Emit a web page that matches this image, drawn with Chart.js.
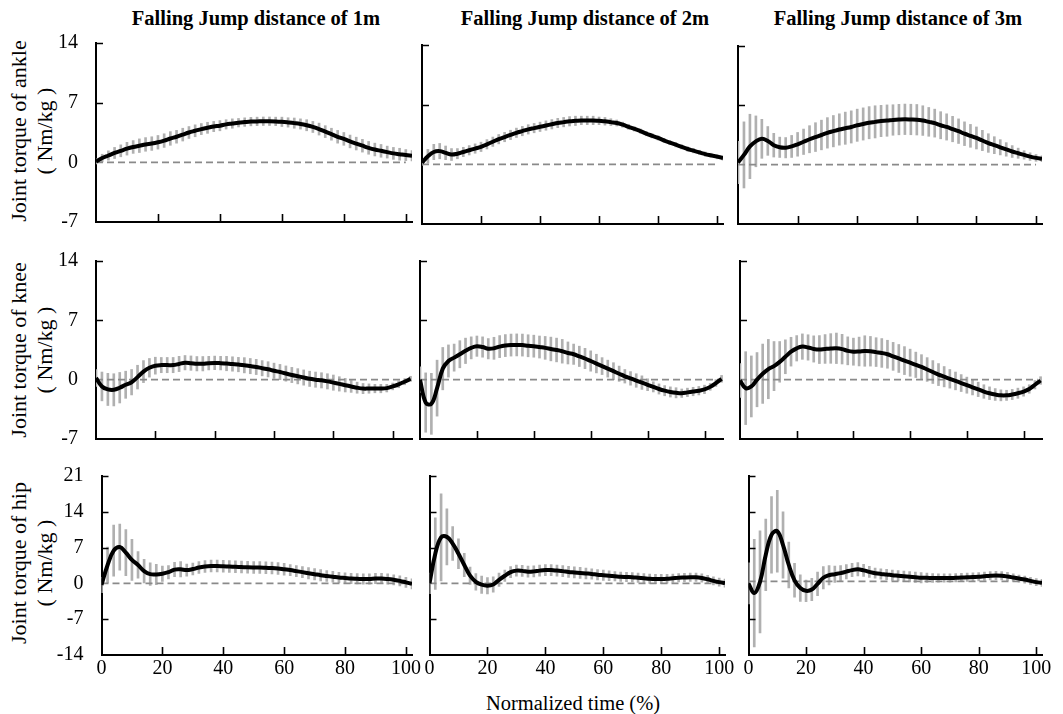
<!DOCTYPE html>
<html lang="en">
<head>
<meta charset="UTF-8" />
<title>Joint torque during falling jumps</title>
<script src="https://cdn.jsdelivr.net/npm/chart.js@4.4.0/dist/chart.umd.min.js"></script>
<style>
  body { margin: 0; background: #fff; }
  #figure {
    position: relative;
    width: 1063px;
    height: 714px;
    overflow: hidden;
    font-family: "Liberation Serif", "DejaVu Serif", serif;
    color: #000;
  }
  #figure canvas { position: absolute; left: 0; top: 0; }
  .title {
    position: absolute;
    top: 7px;
    transform: translateX(-50%);
    font-weight: bold;
    font-size: 20.5px;
    white-space: nowrap;
  }
  .ylab {
    position: absolute;
    transform: translate(-50%, -50%) rotate(-90deg);
    font-size: 22px;
    line-height: 26px;
    text-align: center;
    white-space: nowrap;
  }
  .xlab {
    position: absolute;
    transform: translate(-50%, -50%);
    font-size: 20.5px;
    white-space: nowrap;
  }
</style>
</head>
<body>
<div id="figure">
  <div class="title" style="left:256px">Falling Jump distance of 1m</div>
  <div class="title" style="left:585px">Falling Jump distance of 2m</div>
  <div class="title" style="left:898px">Falling Jump distance of 3m</div>

  <div class="ylab" style="left:32px;top:131px">Joint torque of ankle<br>( Nm/kg )</div>
  <div class="ylab" style="left:32px;top:350px">Joint torque of knee<br>( Nm/kg )</div>
  <div class="ylab" style="left:32px;top:563px">Joint torque of hip<br>( Nm/kg )</div>

  <div class="xlab" style="left:573px;top:703px">Normalized time (%)</div>
</div>

<script>
// normalized time samples (%); the knee trials run a little longer
const xAnkleHip = [0, 2, 4, 6, 8, 10, 12, 14, 16, 18, 20, 22, 24,
  26, 28, 30, 32, 34, 36, 38, 40, 42, 44, 46, 48, 50,
  52, 54, 56, 58, 60, 62, 64, 66, 68, 70, 72, 74, 76,
  78, 80, 82, 84, 86, 88, 90, 92, 94, 96, 98, 100, 102];
const xKnee = [0, 2, 4, 6, 8, 10, 12, 14, 16, 18, 20, 22, 24,
  26, 28, 30, 32, 34, 36, 38, 40, 42, 44, 46, 48, 50,
  52, 54, 56, 58, 60, 62, 64, 66, 68, 70, 72, 74, 76,
  78, 80, 82, 84, 86, 88, 90, 92, 94, 96, 98, 100, 102, 104, 106];

// ankle: mean and SD (Nm/kg)
const ankle1m = [0.1, 0.5, 0.8, 1.1, 1.35, 1.6, 1.8, 1.95, 2.1, 2.2, 2.35, 2.55, 2.8,
  3.0, 3.25, 3.5, 3.7, 3.9, 4.05, 4.2, 4.3, 4.45, 4.55, 4.65, 4.72, 4.78,
  4.8, 4.82, 4.82, 4.8, 4.75, 4.68, 4.6, 4.5, 4.35, 4.15, 3.9, 3.6, 3.3,
  3.0, 2.75, 2.45, 2.2, 1.95, 1.7, 1.5, 1.35, 1.2, 1.05, 0.95, 0.85, 0.78];
const ankle1mSd = [0.3, 0.45, 0.55, 0.65, 0.7, 0.75, 0.75, 0.8, 0.8, 0.8, 0.8, 0.8, 0.8,
  0.75, 0.75, 0.7, 0.7, 0.65, 0.65, 0.6, 0.6, 0.55, 0.55, 0.5, 0.5, 0.5,
  0.5, 0.5, 0.5, 0.5, 0.55, 0.55, 0.6, 0.6, 0.65, 0.65, 0.7, 0.7, 0.7,
  0.75, 0.75, 0.75, 0.75, 0.75, 0.75, 0.75, 0.75, 0.7, 0.7, 0.7, 0.65, 0.6];
const ankle2m = [0.2, 0.95, 1.45, 1.55, 1.35, 1.15, 1.25, 1.45, 1.65, 1.85, 2.05, 2.35, 2.65,
  2.95, 3.2, 3.45, 3.7, 3.9, 4.1, 4.25, 4.4, 4.55, 4.7, 4.85, 4.95, 5.05,
  5.1, 5.15, 5.15, 5.15, 5.1, 5.05, 4.95, 4.85, 4.65, 4.4, 4.15, 3.9, 3.6,
  3.35, 3.1, 2.8, 2.55, 2.3, 2.05, 1.8, 1.6, 1.4, 1.2, 1.05, 0.9, 0.75];
const ankle2mSd = [0.3, 0.8, 0.9, 0.9, 0.8, 0.7, 0.6, 0.55, 0.55, 0.55, 0.55, 0.55, 0.55,
  0.55, 0.55, 0.55, 0.55, 0.55, 0.55, 0.55, 0.55, 0.55, 0.55, 0.55, 0.55, 0.55,
  0.55, 0.5, 0.5, 0.5, 0.45, 0.45, 0.4, 0.35, 0.3, 0.3, 0.25, 0.25, 0.25,
  0.25, 0.25, 0.25, 0.25, 0.25, 0.25, 0.25, 0.25, 0.25, 0.25, 0.25, 0.25, 0.25];
const ankle3m = [0.25, 1.15, 2.15, 2.75, 3.05, 2.8, 2.3, 2.05, 2.0, 2.15, 2.4, 2.7, 3.0,
  3.25, 3.5, 3.75, 3.95, 4.15, 4.3, 4.45, 4.65, 4.8, 4.95, 5.05, 5.15, 5.2,
  5.27, 5.32, 5.35, 5.33, 5.3, 5.2, 5.05, 4.9, 4.65, 4.45, 4.2, 3.95, 3.65,
  3.4, 3.15, 2.85, 2.55, 2.3, 2.05, 1.8, 1.55, 1.35, 1.15, 0.95, 0.8, 0.7];
const ankle3mSd = [2.5, 3.9, 3.8, 3.0, 2.3, 1.7, 1.4, 1.2, 1.2, 1.3, 1.4, 1.5, 1.6,
  1.7, 1.75, 1.8, 1.85, 1.85, 1.9, 1.9, 1.9, 1.9, 1.9, 1.9, 1.85, 1.85,
  1.8, 1.8, 1.8, 1.8, 1.8, 1.75, 1.7, 1.65, 1.6, 1.55, 1.5, 1.45, 1.4,
  1.35, 1.3, 1.2, 1.1, 1.0, 0.9, 0.8, 0.7, 0.6, 0.5, 0.45, 0.4, 0.35];

// knee
const knee1m = [0.2, -0.8, -1.15, -1.2, -0.95, -0.6, -0.3, 0.3, 0.95, 1.4, 1.65, 1.72, 1.72,
  1.72, 1.85, 2.0, 1.95, 1.88, 1.88, 1.95, 1.98, 1.95, 1.9, 1.85, 1.78, 1.7,
  1.6, 1.5, 1.35, 1.22, 1.05, 0.9, 0.72, 0.55, 0.4, 0.25, 0.1, 0.0, -0.08,
  -0.2, -0.35, -0.5, -0.65, -0.8, -0.95, -1.05, -1.05, -1.05, -1.05, -1.0, -0.8, -0.55, -0.25, 0.1];
const knee1mSd = [1.0, 1.7, 1.9, 1.9, 1.8, 1.6, 1.5, 1.4, 1.3, 1.1, 1.0, 0.9, 0.9,
  0.9, 0.9, 0.85, 0.85, 0.85, 0.85, 0.8, 0.8, 0.8, 0.85, 0.85, 0.85, 0.9,
  0.9, 0.9, 0.9, 0.9, 0.9, 0.9, 0.9, 0.9, 0.9, 0.9, 0.9, 0.9, 0.9,
  0.9, 0.9, 0.85, 0.8, 0.7, 0.65, 0.6, 0.55, 0.5, 0.5, 0.45, 0.4, 0.4, 0.35, 0.3];
const knee2m = [0.0, -2.7, -2.85, -1.0, 1.3, 2.2, 2.6, 3.0, 3.4, 3.75, 3.95, 3.85, 3.65,
  3.7, 3.9, 4.02, 4.08, 4.1, 4.08, 4.0, 3.95, 3.85, 3.75, 3.62, 3.5, 3.35,
  3.15, 3.0, 2.75, 2.5, 2.2, 1.9, 1.6, 1.3, 1.0, 0.7, 0.4, 0.15, -0.1,
  -0.35, -0.6, -0.85, -1.1, -1.3, -1.45, -1.55, -1.6, -1.5, -1.4, -1.3, -1.15, -0.85, -0.4, 0.1];
const knee2mSd = [1.5, 3.5, 3.6, 3.3, 2.5, 1.9, 1.6, 1.6, 1.5, 1.3, 1.2, 1.2, 1.2,
  1.3, 1.3, 1.3, 1.3, 1.3, 1.3, 1.3, 1.3, 1.3, 1.35, 1.4, 1.4, 1.4,
  1.3, 1.2, 1.2, 1.2, 1.2, 1.1, 1.0, 1.0, 1.0, 0.9, 0.8, 0.8, 0.8,
  0.8, 0.7, 0.6, 0.6, 0.6, 0.6, 0.6, 0.5, 0.5, 0.5, 0.5, 0.5, 0.4, 0.4, 0.4];
const knee3m = [-0.1, -1.0, -0.8, 0.0, 0.7, 1.25, 1.6, 2.1, 2.7, 3.3, 3.7, 3.9, 3.8,
  3.62, 3.55, 3.62, 3.68, 3.7, 3.6, 3.4, 3.3, 3.32, 3.38, 3.35, 3.25, 3.15,
  3.0, 2.75, 2.5, 2.25, 2.0, 1.75, 1.5, 1.2, 0.9, 0.6, 0.35, 0.1, -0.15,
  -0.4, -0.65, -0.9, -1.15, -1.4, -1.6, -1.75, -1.85, -1.85, -1.75, -1.6, -1.4, -1.1, -0.6, -0.1];
const knee3mSd = [2.0, 4.3, 3.6, 3.2, 3.5, 3.5, 2.9, 2.4, 2.0, 1.7, 1.5, 1.5, 1.5,
  1.55, 1.65, 1.7, 1.75, 1.8, 1.75, 1.65, 1.6, 1.7, 1.8, 1.75, 1.7, 1.7,
  1.65, 1.65, 1.65, 1.65, 1.6, 1.5, 1.45, 1.4, 1.35, 1.3, 1.2, 1.1, 1.05,
  1.0, 0.95, 0.9, 0.85, 0.8, 0.75, 0.7, 0.65, 0.6, 0.6, 0.6, 0.55, 0.5, 0.5, 0.45];

// hip
const hip1m = [-0.3, 3.6, 6.4, 7.1, 6.0, 4.6, 3.6, 2.4, 1.8, 1.75, 1.9, 2.2, 2.7,
  2.75, 2.6, 2.8, 3.1, 3.3, 3.4, 3.4, 3.35, 3.3, 3.25, 3.2, 3.15, 3.12,
  3.1, 3.05, 3.0, 2.9, 2.75, 2.6, 2.4, 2.2, 2.0, 1.8, 1.6, 1.45, 1.3,
  1.15, 1.05, 0.95, 0.9, 0.85, 0.85, 0.95, 0.95, 0.85, 0.7, 0.5, 0.2, -0.1];
const hip1mSd = [1.5, 3.5, 5.0, 4.5, 4.5, 4.0, 2.6, 2.3, 2.2, 2.0, 1.5, 1.3, 1.4,
  1.5, 1.2, 1.15, 1.15, 1.15, 1.15, 1.15, 1.15, 1.15, 1.15, 1.15, 1.15, 1.15,
  1.15, 1.15, 1.15, 1.15, 1.15, 1.1, 1.1, 1.1, 1.1, 1.1, 1.1, 1.05, 1.05,
  1.0, 1.0, 1.0, 1.0, 1.0, 1.0, 1.0, 1.0, 1.0, 1.0, 1.0, 1.0, 1.0];
const hip2m = [0.0, 5.8, 9.0, 9.1, 7.8, 5.8, 3.6, 1.5, 0.3, -0.25, -0.45, -0.2, 0.7,
  1.5, 2.2, 2.5, 2.45, 2.3, 2.35, 2.5, 2.6, 2.6, 2.5, 2.4, 2.25, 2.15,
  2.05, 1.95, 1.85, 1.7, 1.6, 1.5, 1.4, 1.3, 1.25, 1.2, 1.1, 1.0, 0.9,
  0.85, 0.85, 0.9, 1.0, 1.1, 1.15, 1.2, 1.2, 1.05, 0.8, 0.5, 0.25, 0.05];
const hip2mSd = [2.0, 7.0, 8.5, 5.5, 3.3, 2.9, 2.3, 1.7, 1.6, 1.7, 1.6, 1.5, 1.3,
  1.1, 1.1, 1.1, 1.1, 1.1, 1.1, 1.1, 1.1, 1.1, 1.1, 1.1, 1.1, 1.1,
  1.1, 1.05, 1.0, 1.0, 1.0, 0.95, 0.9, 0.9, 0.9, 0.9, 0.9, 0.9, 0.9,
  0.9, 0.9, 0.85, 0.8, 0.8, 0.8, 0.8, 0.8, 0.8, 0.8, 0.8, 0.8, 0.8];
const hip3m = [0.0, -1.9, 0.3, 5.6, 9.5, 10.2, 7.5, 3.6, 0.6, -0.9, -1.45, -1.2, -0.1,
  1.1, 1.6, 1.8, 2.0, 2.3, 2.6, 2.75, 2.55, 2.25, 2.0, 1.85, 1.75, 1.6,
  1.5, 1.4, 1.3, 1.2, 1.1, 1.1, 1.05, 1.05, 1.05, 1.05, 1.1, 1.15, 1.2,
  1.25, 1.3, 1.4, 1.5, 1.55, 1.5, 1.35, 1.15, 0.95, 0.75, 0.5, 0.25, 0.1];
const hip3mSd = [4.0, 10.5, 10.0, 7.0, 7.5, 8.0, 6.5, 4.5, 3.3, 2.6, 2.1, 2.2, 2.3,
  2.2, 1.9, 1.6, 1.5, 1.4, 1.3, 1.3, 1.2, 1.1, 1.0, 1.0, 1.0, 1.0,
  1.0, 1.0, 1.0, 1.0, 1.0, 0.9, 0.85, 0.8, 0.8, 0.8, 0.8, 0.8, 0.8,
  0.8, 0.8, 0.8, 0.8, 0.8, 0.8, 0.8, 0.7, 0.7, 0.7, 0.7, 0.7, 0.7];

// dashed reference line: start/end time and level for each panel
const refAnkleHipX = [0, 100];
const refKneeX = [0, 105];
const refLevels = [0, 0, 0, 0, 0, 0, 0, 0, 0.4];

// y-axis ranges per joint
const ankleRange = [-7, 14];
const kneeRange = [-7, 14];
const hipRange = [-14, 21];
const yStep = 7;
const xStep = 20;

const W = 1063, H = 714;
const Y_AXIS_W = 50;   // room kept for the y tick labels
const X_AXIS_H = 34;   // room kept for the x tick labels
const FONT = '"Liberation Serif", "DejaVu Serif", serif';

// plot box of each panel: left, top, right, bottom (px)
const panels = [
  { box: [96, 43, 412, 222],     x: xAnkleHip, xMax: 102,   mean: ankle1m, sd: ankle1mSd, refX: refAnkleHipX, range: ankleRange, col: 0, row: 0 },
  { box: [422, 45, 723, 224],    x: xAnkleHip, xMax: 102,   mean: ankle2m, sd: ankle2mSd, refX: refAnkleHipX, range: ankleRange, col: 1, row: 0 },
  { box: [738, 46, 1042, 224],   x: xAnkleHip, xMax: 102,   mean: ankle3m, sd: ankle3mSd, refX: refAnkleHipX, range: ankleRange, col: 2, row: 0 },
  { box: [96, 261, 412, 439],    x: xKnee,     xMax: 106.5, mean: knee1m,  sd: knee1mSd,  refX: refKneeX,     range: kneeRange,  col: 0, row: 1 },
  { box: [420, 261, 723, 439],   x: xKnee,     xMax: 106.5, mean: knee2m,  sd: knee2mSd,  refX: refKneeX,     range: kneeRange,  col: 1, row: 1 },
  { box: [740, 261, 1042, 439],  x: xKnee,     xMax: 106.5, mean: knee3m,  sd: knee3mSd,  refX: refKneeX,     range: kneeRange,  col: 2, row: 1 },
  { box: [101.5, 476, 412, 655], x: xAnkleHip, xMax: 102,   mean: hip1m,   sd: hip1mSd,   refX: refAnkleHipX, range: hipRange,   col: 0, row: 2 },
  { box: [429.5, 476, 725, 655], x: xAnkleHip, xMax: 102,   mean: hip2m,   sd: hip2mSd,   refX: refAnkleHipX, range: hipRange,   col: 1, row: 2 },
  { box: [748.5, 476, 1042, 655],x: xAnkleHip, xMax: 102,   mean: hip3m,   sd: hip3mSd,   refX: refAnkleHipX, range: hipRange,   col: 2, row: 2 }
];

// tick marks pointing into the plot area
const innerTicks = {
  id: 'innerTicks',
  afterDraw(chart) {
    const { ctx, chartArea: a, scales: { x, y } } = chart;
    ctx.save();
    ctx.strokeStyle = '#000';
    ctx.lineWidth = 1.6;
    ctx.beginPath();
    y.ticks.forEach(t => {
      if (t.value === y.min || t.value === 0) return;
      const py = Math.round(y.getPixelForValue(t.value)) + 0.5;
      ctx.moveTo(a.left, py);
      ctx.lineTo(a.left + 7, py);
    });
    x.ticks.forEach(t => {
      if (t.value === x.min) return;
      const px = Math.round(x.getPixelForValue(t.value)) + 0.5;
      ctx.moveTo(px, a.bottom);
      ctx.lineTo(px, a.bottom - 8);
    });
    ctx.stroke();
    ctx.restore();
  }
};

const figure = document.getElementById('figure');

panels.forEach((p, idx) => {
  const canvas = document.createElement('canvas');
  canvas.width = W;
  canvas.height = H;
  figure.appendChild(canvas);

  const [L, T, R, B] = p.box;
  const level = refLevels[idx];

  new Chart(canvas, {
    type: 'line',
    data: {
      datasets: [
        {
          type: 'line',
          data: p.x.map((v, i) => ({ x: v, y: p.mean[i] })),
          borderColor: '#000',
          borderWidth: 4,
          pointRadius: 0,
          tension: 0.4,
          order: 0
        },
        {
          type: 'line',
          data: p.refX.map(v => ({ x: v, y: level })),
          borderColor: '#8a8a8a',
          borderWidth: 1.6,
          borderDash: [7, 4],
          pointRadius: 0,
          order: 1
        },
        {
          type: 'bar',
          data: p.x.map((v, i) => ({ x: v, y: [p.mean[i] - p.sd[i], p.mean[i] + p.sd[i]] })),
          backgroundColor: '#b0b0b0',
          borderWidth: 0,
          barThickness: 2,
          order: 2
        }
      ]
    },
    options: {
      responsive: false,
      animation: false,
      events: [],
      layout: { padding: { left: L - Y_AXIS_W, top: T, right: W - R, bottom: H - B - X_AXIS_H } },
      plugins: { legend: { display: false }, tooltip: { enabled: false } },
      scales: {
        x: {
          type: 'linear',
          min: 0,
          max: p.xMax,
          offset: false,
          grid: { display: false, drawTicks: false },
          border: { display: true, color: '#000', width: 2 },
          ticks: {
            display: p.row === 2,
            stepSize: xStep,
            includeBounds: false,
            autoSkip: false,
            maxRotation: 0,
            padding: 2,
            color: '#000',
            font: { family: FONT, size: 20 }
          },
          afterFit(scale) { scale.height = X_AXIS_H; }
        },
        y: {
          type: 'linear',
          min: p.range[0],
          max: p.range[1],
          grid: { display: false, drawTicks: false },
          border: { display: true, color: '#000', width: 2 },
          ticks: {
            display: p.col === 0,
            stepSize: yStep,
            padding: 18,
            color: '#000',
            font: { family: FONT, size: 20 }
          },
          afterFit(scale) { scale.width = Y_AXIS_W; }
        }
      }
    },
    plugins: [innerTicks]
  });
});
</script>
</body>
</html>
